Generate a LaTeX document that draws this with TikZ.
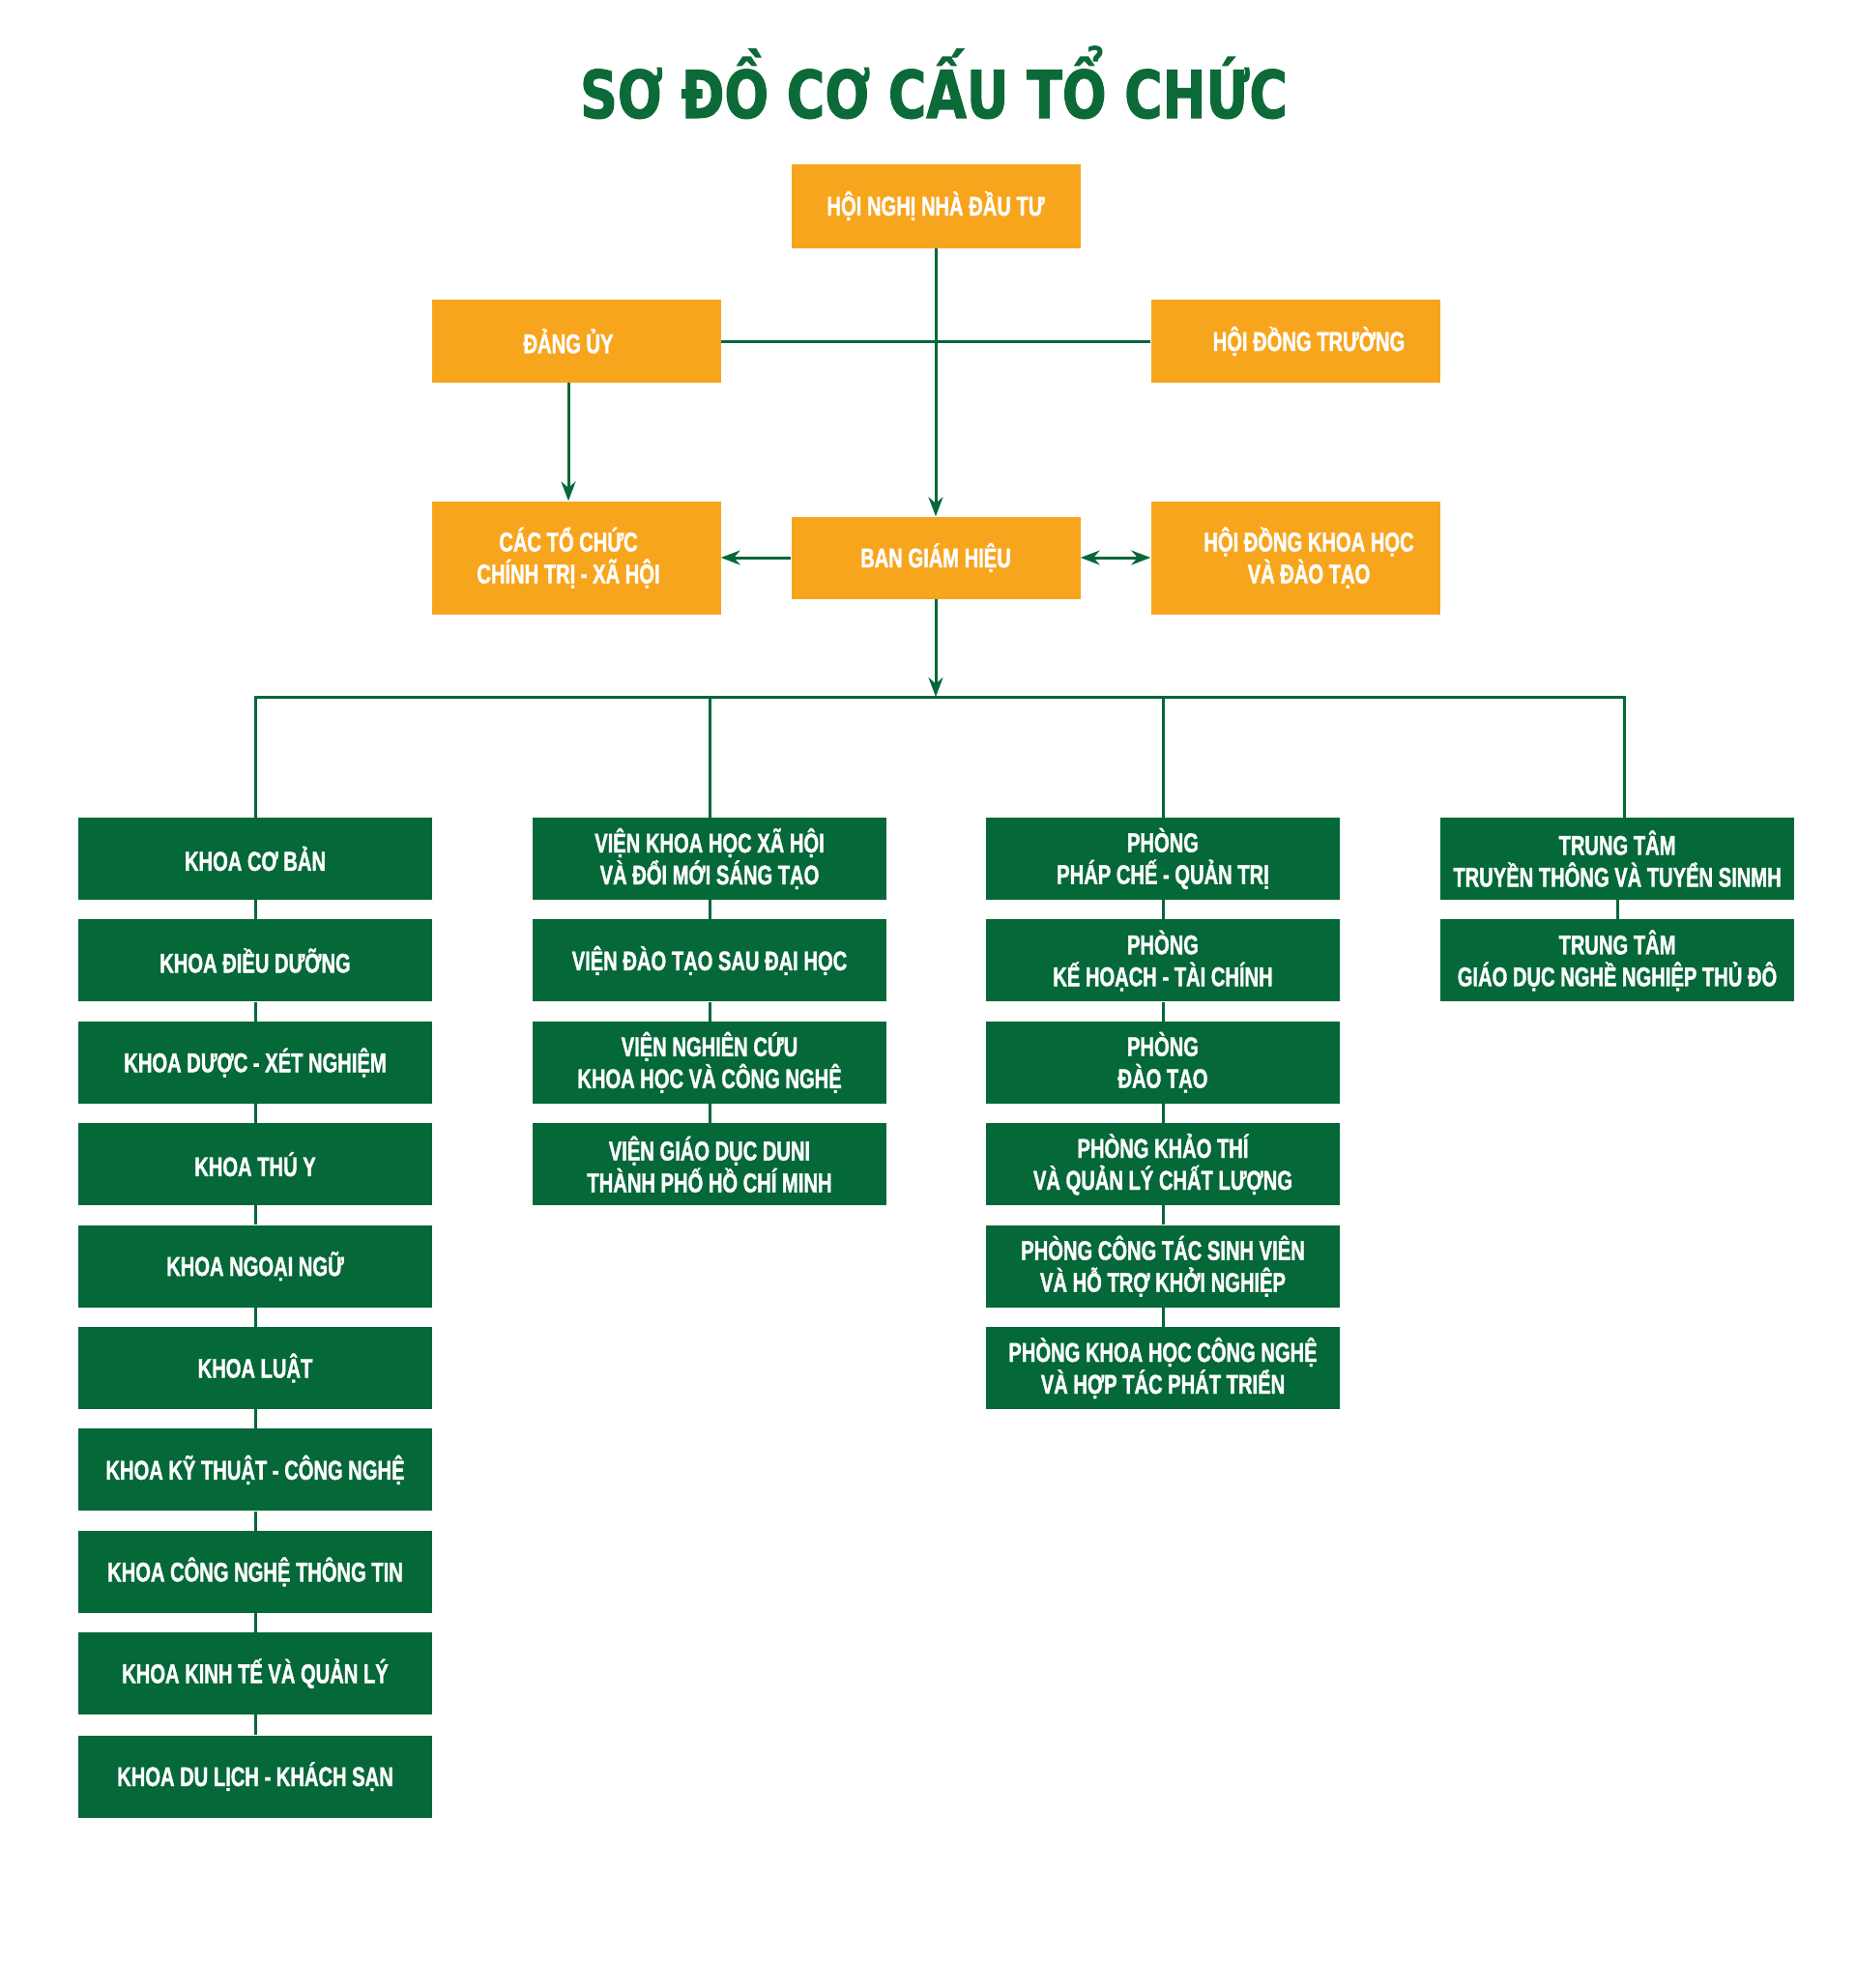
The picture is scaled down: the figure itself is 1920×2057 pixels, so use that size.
\documentclass[tikz,border=0pt]{standalone}
\usepackage{fontspec}
\usepackage{tikz}
\usetikzlibrary{
    arrows.meta
  , positioning
}
\newfontfamily\boxfont[FakeStretch=0.72,FakeBold=1.3]{Liberation Sans Bold}
\newfontfamily\titlefont[FakeStretch=0.79,FakeBold=1.6]{DejaVu Sans Bold}
\definecolor{orgorange}{HTML}{F8A51E}
\definecolor{orggreen}{HTML}{046838}
\definecolor{titlegreen}{HTML}{0C6A39}
\tikzset{
  orgtext/.style={align=center, text=white, inner sep=0pt,
    font=\boxfont\fontsize{28}{33}\selectfont},
  orgbox/.style={rectangle, orgtext},
  orangebox/.style={orgbox, fill=orgorange, minimum width=299pt},
  greenbox/.style={orgbox, fill=orggreen, minimum width=366pt, minimum height=85pt},
  link/.style={draw=orggreen, line width=3pt}
}

\begin{document}
\begin{tikzpicture}[x=1pt, y=-1pt, >={Stealth[length=20pt,width=15pt]}]
  \useasboundingbox (0,0) rectangle (1920,2057);
  % Title
  \node[anchor=base, text=titlegreen, font=\titlefont\fontsize{68}{80}\selectfont] (title) at (966,122) {SƠ ĐỒ CƠ CẤU TỔ CHỨC};
  % Top level
  \node[orangebox, minimum height=87pt] (hnndt) at (968,213) {HỘI NGHỊ NHÀ ĐẦU TƯ};
  \node[orangebox, minimum height=86pt, label={[orgtext, xshift=-8pt]center:ĐẢNG ỦY}] (danguy) at (596,353) {};
  \node[orangebox, minimum height=86pt, label={[orgtext, xshift=14pt]center:HỘI ĐỒNG TRƯỜNG}] (hdt) at (1340,353) {};
  \node[orangebox, minimum height=117pt, label={[orgtext, xshift=-8pt]center:CÁC TỔ CHỨC\\CHÍNH TRỊ - XÃ HỘI}] (ctc) at (596,577) {};
  \node[orangebox, minimum height=85pt] (bgh) at (968,577) {BAN GIÁM HIỆU};
  \node[orangebox, minimum height=117pt, label={[orgtext, xshift=14pt]center:HỘI ĐỒNG KHOA HỌC\\VÀ ĐÀO TẠO}] (hdkh) at (1340,577) {};
  % Khoa
  \node[greenbox] (k1) at (264,888.5) {KHOA CƠ BẢN};
  \node[greenbox, below=20pt of k1] (k2) {KHOA ĐIỀU DƯỠNG};
  \node[greenbox, below=20pt of k2] (k3) {KHOA DƯỢC - XÉT NGHIỆM};
  \node[greenbox, below=20pt of k3] (k4) {KHOA THÚ Y};
  \node[greenbox, below=20pt of k4] (k5) {KHOA NGOẠI NGỮ};
  \node[greenbox, below=20pt of k5] (k6) {KHOA LUẬT};
  \node[greenbox, below=20pt of k6] (k7) {KHOA KỸ THUẬT - CÔNG NGHỆ};
  \node[greenbox, below=20pt of k7] (k8) {KHOA CÔNG NGHỆ THÔNG TIN};
  \node[greenbox, below=20pt of k8] (k9) {KHOA KINH TẾ VÀ QUẢN LÝ};
  \node[greenbox, below=21pt of k9] (k10) {KHOA DU LỊCH - KHÁCH SẠN};
  % Vien
  \node[greenbox] (v1) at (734,888.5) {VIỆN KHOA HỌC XÃ HỘI\\VÀ ĐỔI MỚI SÁNG TẠO};
  \node[greenbox, below=20pt of v1] (v2) {VIỆN ĐÀO TẠO SAU ĐẠI HỌC};
  \node[greenbox, below=20pt of v2] (v3) {VIỆN NGHIÊN CỨU\\KHOA HỌC VÀ CÔNG NGHỆ};
  \node[greenbox, below=20pt of v3] (v4) {VIỆN GIÁO DỤC DUNI\\THÀNH PHỐ HỒ CHÍ MINH};
  % Phong
  \node[greenbox] (p1) at (1203,888.5) {PHÒNG\\PHÁP CHẾ - QUẢN TRỊ};
  \node[greenbox, below=20pt of p1] (p2) {PHÒNG\\KẾ HOẠCH - TÀI CHÍNH};
  \node[greenbox, below=20pt of p2] (p3) {PHÒNG\\ĐÀO TẠO};
  \node[greenbox, below=20pt of p3] (p4) {PHÒNG KHẢO THÍ\\VÀ QUẢN LÝ CHẤT LƯỢNG};
  \node[greenbox, below=20pt of p4] (p5) {PHÒNG CÔNG TÁC SINH VIÊN\\VÀ HỖ TRỢ KHỞI NGHIỆP};
  \node[greenbox, below=20pt of p5] (p6) {PHÒNG KHOA HỌC CÔNG NGHỆ\\VÀ HỢP TÁC PHÁT TRIỂN};
  % Trung tam
  \node[greenbox] (t1) at (1673,888.5) {TRUNG TÂM\\TRUYỀN THÔNG VÀ TUYỂN SINMH};
  \node[greenbox, below=20pt of t1] (t2) {TRUNG TÂM\\GIÁO DỤC NGHỀ NGHIỆP THỦ ĐÔ};
  % Top connectors
  \draw[link] (danguy.east) -- (hdt.west);
  \draw[link,->] (hnndt.south) -- (bgh.north);
  \draw[link,->] ([xshift=-8pt]danguy.south) -- ([xshift=-8pt]ctc.north);
  \draw[link,->] (bgh.west) -- (ctc.east);
  \draw[link,<->] (bgh.east) -- (hdkh.west);
  % Bus to columns
  \coordinate (bus) at (968,721);
  \draw[link] (k1.north) |- ([xshift=7pt]t1.north |- bus) -- ([xshift=7pt]t1.north);
  \draw[link] (v1.north) -- (v1.north |- bus);
  \draw[link] (p1.north) -- (p1.north |- bus);
  \draw[link,->] (bgh.south) -- (bus);
  % Column chains
  \draw[link] (k1) -- (k2) (k2) -- (k3) (k3) -- (k4) (k4) -- (k5) (k5) -- (k6)
              (k6) -- (k7) (k7) -- (k8) (k8) -- (k9) (k9) -- (k10);
  \draw[link] (v1) -- (v2) (v2) -- (v3) (v3) -- (v4);
  \draw[link] (p1) -- (p2) (p2) -- (p3) (p3) -- (p4) (p4) -- (p5) (p5) -- (p6);
  \draw[link] (t1) -- (t2);
\end{tikzpicture}
\end{document}
